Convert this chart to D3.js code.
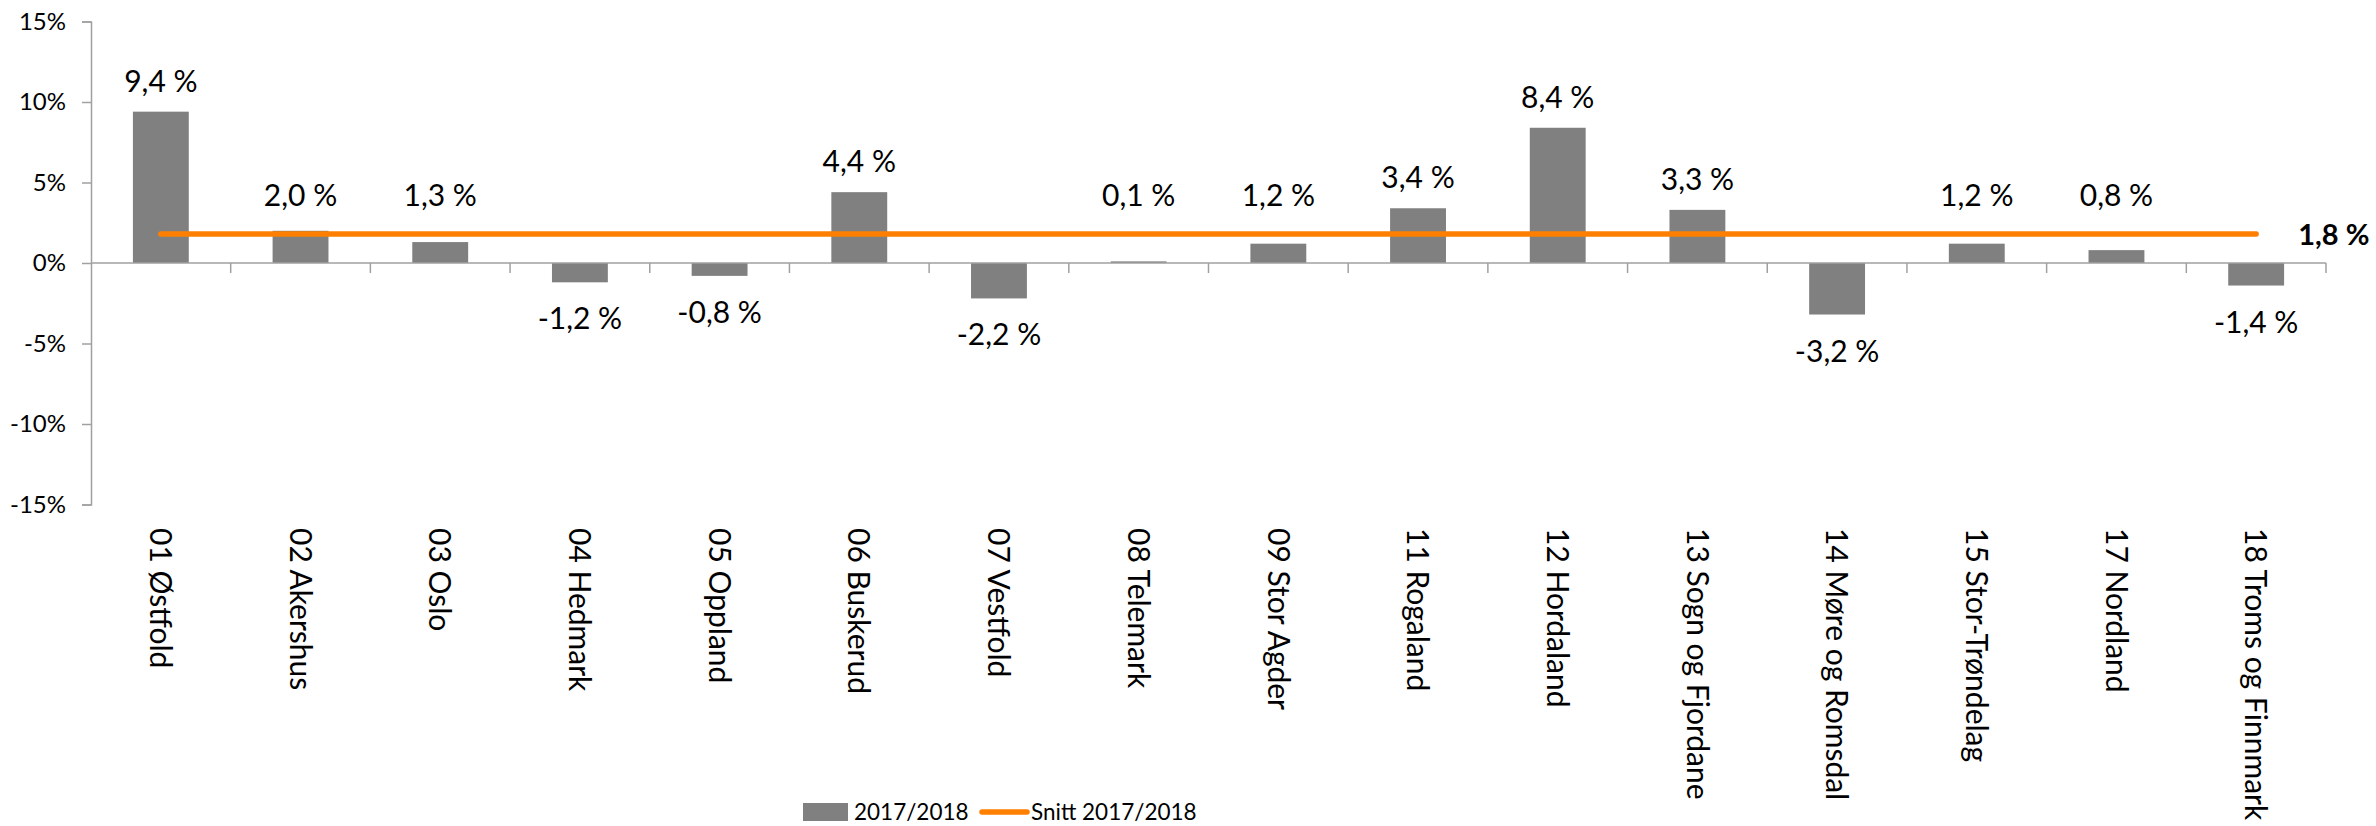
<!DOCTYPE html>
<html>
<head>
<meta charset="utf-8">
<script src="https://cdn.jsdelivr.net/npm/d3@7"></script>
<style>
  html, body { margin: 0; padding: 0; background: #fff; }
  svg { display: block; font-family: Lato, "Open Sans", sans-serif; }
</style>
</head>
<body>
<div id="chart"></div>
<script>
// data
const categories = ["01 Østfold", "02 Akershus", "03 Oslo", "04 Hedmark", "05 Oppland", "06 Buskerud",
  "07 Vestfold", "08 Telemark", "09 Stor Agder", "11 Rogaland", "12 Hordaland", "13 Sogn og Fjordane",
  "14 Møre og Romsdal", "15 Stor-Trøndelag", "17 Nordland", "18 Troms og Finnmark"];
const change = [9.4, 2.0, 1.3, -1.2, -0.8, 4.4, -2.2, 0.1, 1.2, 3.4, 8.4, 3.3, -3.2, 1.2, 0.8, -1.4];
const average = 1.8;
const yTicks = [-15, -10, -5, 0, 5, 10, 15];
const seriesNames = ["2017/2018", "Snitt 2017/2018"];

const width = 2376, height = 826;
const margin = { left: 91, right: 50, top: 21.5, bottom: 321.5 };

const no = d3.formatLocale({ decimal: ",", thousands: " ", grouping: [3], currency: ["", " kr"], minus: "-" });
const fmtLabel = v => no.format(".1f")(v) + " %";
const fmtTick = v => no.format("d")(v) + "%";

const svg = d3.select("#chart").append("svg")
  .attr("width", width)
  .attr("height", height);

const x = d3.scaleBand()
  .domain(categories)
  .range([margin.left, 2326])
  .padding(0);

const y = d3.scaleLinear()
  .domain([-15, 15])
  .range([height - margin.bottom, margin.top]);

const bw = x.bandwidth();
const axisColor = "#a0a0a0";
const barColor = "#808080";
const lineColor = "#ff8000";

// bars
svg.append("g").selectAll("rect")
  .data(change)
  .join("rect")
  .attr("x", (d, i) => x(categories[i]) + bw * 0.3)
  .attr("width", bw * 0.4)
  .attr("y", d => y(Math.max(0, d)))
  .attr("height", d => Math.abs(y(d) - y(0)))
  .attr("fill", barColor);

// y axis
const yAxis = svg.append("g")
  .attr("transform", `translate(${margin.left},0)`)
  .call(d3.axisLeft(y).tickValues(yTicks).tickSize(9).tickPadding(16).tickFormat(fmtTick));
yAxis.select(".domain").attr("stroke", axisColor).attr("stroke-width", 1.5);
yAxis.selectAll(".tick line").attr("stroke", axisColor).attr("stroke-width", 1.5);
yAxis.selectAll(".tick text")
  .attr("font-size", 24)
  .attr("font-family", "Lato")
  .attr("fill", "#000");

// x axis at zero
const xAxis = svg.append("g");
xAxis.append("line")
  .attr("x1", margin.left).attr("x2", x.range()[1])
  .attr("y1", y(0)).attr("y2", y(0))
  .attr("stroke", axisColor).attr("stroke-width", 1.5);
xAxis.selectAll("line.tick")
  .data(categories)
  .join("line")
  .attr("class", "tick")
  .attr("x1", d => x(d) + bw).attr("x2", d => x(d) + bw)
  .attr("y1", y(0)).attr("y2", y(0) + 10)
  .attr("stroke", axisColor).attr("stroke-width", 1.5);

// category labels, rotated
svg.append("g").selectAll("text")
  .data(categories)
  .join("text")
  .attr("transform", d => `translate(${x(d) + bw / 2},528) rotate(90)`)
  .attr("dy", "0.36em")
  .attr("font-size", 30)
  .attr("fill", "#000")
  .text(d => d);

// average line
const avgLine = d3.line()
  .x(d => x(d) + bw / 2)
  .y(() => y(average));
svg.append("path")
  .attr("d", avgLine(categories))
  .attr("fill", "none")
  .attr("stroke", lineColor)
  .attr("stroke-width", 5.5)
  .attr("stroke-linecap", "round");

// data labels
svg.append("g").selectAll("text")
  .data(change)
  .join("text")
  .attr("x", (d, i) => x(categories[i]) + bw / 2)
  .attr("y", d => d >= 0 ? Math.min(y(d), y(average) - 8) - 20 : y(d) + 47)
  .attr("text-anchor", "middle")
  .attr("font-size", 30)
  .attr("fill", "#000")
  .text(d => fmtLabel(d));

// average label
svg.append("text")
  .attr("x", x(categories[categories.length - 1]) + bw / 2 + 42)
  .attr("y", y(average) + 11)
  .attr("font-size", 29)
  .attr("font-weight", "bold")
  .attr("fill", "#000")
  .text(fmtLabel(average));

// legend
const legend = svg.append("g").attr("transform", "translate(803,812)");
legend.append("rect")
  .attr("x", 0).attr("y", -9)
  .attr("width", 45).attr("height", 18)
  .attr("fill", barColor);
legend.append("text")
  .attr("x", 51).attr("y", 0).attr("dy", "0.36em")
  .attr("font-size", 22.5).attr("fill", "#000")
  .text(seriesNames[0]);
legend.append("line")
  .attr("x1", 179).attr("x2", 224)
  .attr("y1", 0).attr("y2", 0)
  .attr("stroke", lineColor).attr("stroke-width", 5.5)
  .attr("stroke-linecap", "round");
legend.append("text")
  .attr("x", 228).attr("y", 0).attr("dy", "0.36em")
  .attr("font-size", 22.5).attr("fill", "#000")
  .text(seriesNames[1]);
</script>
</body>
</html>
